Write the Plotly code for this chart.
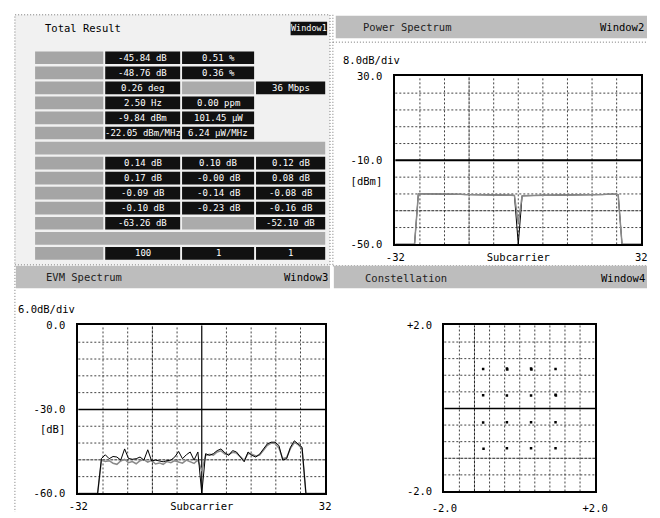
import plotly.graph_objects as go

W, H = 660, 518
FONT = "DejaVu Sans Mono"

# ---------------- data ----------------
subcarriers = list(range(-32, 33))

ps_avg = ([-50.0] * 6 +
          [-25.9, -25.9, -25.9, -26.0, -26.0, -26.0, -26.1, -26.1, -26.1, -26.2, -26.2, -26.2, -26.3,
           -26.3, -26.3, -26.3, -26.4, -26.4, -26.4, -26.5, -26.5, -26.5, -26.5, -26.6, -26.6, -26.7] +
          [-40.0] +
          [-26.9, -26.8, -26.8, -26.8, -26.7, -26.7, -26.6, -26.6, -26.6, -26.6, -26.5, -26.5, -26.5,
           -26.5, -26.5, -26.5, -26.4, -26.4, -26.4, -26.4, -26.3, -26.3, -26.2, -26.1, -26.1, -26.3] +
          [-50.0] * 6)
ps_peak = ps_avg[:32] + [-50.0] + ps_avg[33:]

evm_black = ([-60.0] * 6 +
             [-47.5, -46.2, -47.6, -46.8, -47.0, -48.1, -44.1, -47.5, -47.8, -47.6, -47.0, -48.1, -44.4,
              -48.4, -48.1, -48.5, -48.7, -48.3, -48.1, -47.0, -45.0, -47.6, -46.2, -45.2, -48.1, -45.2] +
             [-60.0] +
             [-45.8, -46.4, -45.8, -44.7, -44.1, -45.5, -46.4, -44.7, -45.2, -47.0, -48.7, -45.2, -46.4,
              -47.0, -46.0, -44.1, -42.3, -41.7, -41.7, -42.9, -48.1, -47.6, -43.5, -41.2, -42.3, -43.5] +
             [-60.0] * 6)
evm_gray = ([-60.0] * 6 +
            [-48.0, -48.6, -48.3, -49.2, -49.6, -48.4, -47.8, -49.0, -48.6, -49.4, -48.3, -47.9, -48.8,
             -48.2, -49.5, -49.1, -49.6, -48.6, -49.0, -48.3, -48.8, -49.2, -48.1, -48.7, -49.3, -48.0] +
            [-52.0] +
            [-46.5, -46.0, -46.3, -45.2, -44.8, -45.9, -46.1, -45.3, -45.6, -46.8, -48.2, -45.7, -46.0,
             -46.6, -46.3, -44.6, -42.8, -42.0, -42.2, -43.8, -47.6, -47.2, -43.9, -41.8, -42.6, -44.0] +
            [-60.0] * 6)

const_i = [-0.97, -0.34, 0.30, 0.95, -0.97, -0.34, 0.30, 0.95,
           -0.97, -0.34, 0.30, 0.95, -0.96, -0.34, 0.30, 0.95, -0.33, 0.31, 0.96]
const_q = [0.95, 0.96, 0.96, 0.95, 0.32, 0.31, 0.31, 0.33,
           -0.34, -0.33, -0.33, -0.33, -0.97, -0.96, -0.96, -0.96, 0.94, 0.94, 0.31]

ps_yticks = [30, -20, -10, -50]
ps_yticktext = ["30.0", "[dBm]", "-10.0", "-50.0"]
evm_yticks = [0, -30, -37, -60]
evm_yticktext = ["0.0", "-30.0", "[dB]", "-60.0"]
sc_ticks = [-32, 0, 32]
sc_ticktext = ["-32", "Subcarrier", "32"]
iq_ticks = [-2, 2]
iq_ticktext = ["-2.0", "+2.0"]

# Total Result table (None = gray cell, "" = empty, "H" = header row)
col1 = ["-45.84 dB", "-48.76 dB", "0.26 deg", "2.50 Hz", "-9.84 dBm", "-22.05 dBm/MHz", "H",
        "0.14 dB", "0.17 dB", "-0.09 dB", "-0.10 dB", "-63.26 dB", "H", "100"]
col2 = ["0.51 %", "0.36 %", None, "0.00 ppm", "101.45 \u03bcW", "6.24 \u03bcW/MHz", "H",
        "0.10 dB", "-0.00 dB", "-0.14 dB", "-0.23 dB", None, "H", "1"]
col3 = ["", "", "36 Mbps", "", "", "", "H",
        "0.12 dB", "0.08 dB", "-0.08 dB", "-0.16 dB", "-52.10 dB", "H", "1"]

# ---------------- helpers ----------------
def fx(x):
    return x / W


def fy(y):
    return 1 - y / H


def dom_x(a, b):
    return [a / W, b / W]


def dom_y(a, b):
    return [1 - b / H, 1 - a / H]


fig = go.Figure()

# Power spectrum traces
fig.add_trace(go.Scatter(x=subcarriers, y=ps_peak, mode="lines", line=dict(color="black", width=1),
                         xaxis="x", yaxis="y", hoverinfo="skip"))
fig.add_trace(go.Scatter(x=subcarriers, y=ps_avg, mode="lines", line=dict(color="#8a8a8a", width=1.5),
                         xaxis="x", yaxis="y", hoverinfo="skip"))
# EVM traces
fig.add_trace(go.Scatter(x=subcarriers, y=evm_gray, mode="lines", line=dict(color="#8a8a8a", width=1.5),
                         xaxis="x2", yaxis="y2", hoverinfo="skip"))
fig.add_trace(go.Scatter(x=subcarriers, y=evm_black, mode="lines", line=dict(color="black", width=1),
                         xaxis="x2", yaxis="y2", hoverinfo="skip"))
# Constellation
fig.add_trace(go.Scatter(x=const_i, y=const_q, mode="markers",
                         marker=dict(color="black", size=2.5, symbol="square"),
                         xaxis="x3", yaxis="y3", hoverinfo="skip"))

axis_common = dict(showgrid=False, zeroline=False, showline=True, mirror=True, linecolor="black",
                   linewidth=2, ticks="", tickfont=dict(family=FONT, size=10.5, color="black"),
                   fixedrange=True)

fig.update_layout(
    width=W, height=H, autosize=False, margin=dict(l=0, r=0, t=0, b=0, pad=0), showlegend=False,
    paper_bgcolor="white", plot_bgcolor="white",
    font=dict(family=FONT, size=10.5, color="black"),
    xaxis=dict(domain=dom_x(398, 654), range=[-32, 32], tickvals=sc_ticks, ticktext=sc_ticktext,
               anchor="y", ticklabelstandoff=2, **axis_common),
    yaxis=dict(domain=dom_y(72, 244), range=[-50, 30], tickvals=ps_yticks, ticktext=ps_yticktext,
               anchor="x", ticklabelstandoff=9, **axis_common),
    xaxis2=dict(domain=dom_x(68, 325), range=[-32, 32], tickvals=sc_ticks, ticktext=sc_ticktext,
                anchor="y2", ticklabelstandoff=2, **axis_common),
    yaxis2=dict(domain=dom_y(327, 499), range=[-60, 0], tickvals=evm_yticks, ticktext=evm_yticktext,
                anchor="x2", ticklabelstandoff=9, **axis_common),
    xaxis3=dict(domain=dom_x(449, 606), range=[-2, 2], tickvals=iq_ticks, ticktext=iq_ticktext,
                anchor="y3", ticklabelstandoff=6, **axis_common),
    yaxis3=dict(domain=dom_y(327, 497), range=[-2, 2], tickvals=iq_ticks, ticktext=iq_ticktext,
                anchor="x3", ticklabelstandoff=8, **axis_common),
)

shapes = []
annotations = []

DOT = "2px,2px"
DENSE = "3px,1px"


def grid(xref, yref, x0, x1, nx, y0, y1, ny, solid_h=None, solid_v=None, dense_h=None, dense_v=None,
         solid_h_w=1.5):
    dx = (x1 - x0) / nx
    dy = (y1 - y0) / ny
    for k in range(1, nx):
        v = x0 + k * dx
        if solid_v == k:
            ln = dict(color="black", width=1.2)
        elif dense_v == k:
            ln = dict(color="#222", width=1, dash=DENSE)
        else:
            ln = dict(color="#444", width=1, dash=DOT)
        shapes.append(dict(type="line", xref=xref, yref=yref + " domain", x0=v, x1=v, y0=0, y1=1,
                           line=ln, layer="below"))
    for k in range(1, ny):
        v = y1 - k * dy
        if solid_h == k:
            ln = dict(color="black", width=solid_h_w)
        elif dense_h == k:
            ln = dict(color="#222", width=1, dash=DENSE)
        else:
            ln = dict(color="#444", width=1, dash=DOT)
        shapes.append(dict(type="line", xref=xref + " domain", yref=yref, x0=0, x1=1, y0=v, y1=v,
                           line=ln, layer="below"))


grid("x", "y", -32, 32, 10, -50, 30, 10, solid_h=5, dense_h=8, dense_v=3, solid_h_w=2)
grid("x2", "y2", -32, 32, 10, -60, 0, 10, solid_h=5, solid_v=5, dense_h=8, dense_v=3)
grid("x3", "y3", -2, 2, 10, -2, 2, 10, solid_h=5, dense_h=8, dense_v=2)


def rect(x0, y0, x1, y1, fill, line=None):
    d = dict(type="rect", xref="paper", yref="paper", x0=fx(x0), x1=fx(x1), y0=fy(y1), y1=fy(y0),
             fillcolor=fill, layer="below", line=line or dict(width=0))
    shapes.append(d)


def pline(x0, y0, x1, y1, color="#777", dash="1px,2px"):
    shapes.append(dict(type="line", xref="paper", yref="paper", x0=fx(x0), x1=fx(x1), y0=fy(y0),
                       y1=fy(y1), line=dict(color=color, width=1, dash=dash), layer="below"))


def text(x, y, s, xanchor="left", size=10.5, color="black"):
    annotations.append(dict(xref="paper", yref="paper", x=fx(x), y=fy(y), text=s, showarrow=False,
                            xanchor=xanchor, yanchor="middle", borderpad=0,
                            font=dict(family=FONT, size=size, color=color)))


# panels
rect(2, 9, 330, 265, "#f1f1f1", line=dict(color="#777", width=1, dash="1px,2px"))
rect(336, 10, 660, 33, "#bdbdbd")
pline(333, 9, 333, 265)
pline(333, 37, 660, 37)
pline(333, 266, 660, 266)
rect(3, 266, 330, 289, "#bdbdbd")
rect(334, 266, 660, 289, "#bdbdbd")
pline(2, 266, 2, 518)

# titles
text(32, 23, "Total Result")
rect(289, 16, 327, 30, "#111")
text(308, 23, "Window1", xanchor="center", size=8.5, color="white")
text(363, 22, "Power Spectrum", color="#222")
text(658, 22, "Window2", xanchor="right")
text(33, 277, "EVM Spectrum", color="#222")
text(329, 277, "Window3", xanchor="right")
text(365, 278, "Constellation", color="#222")
text(659, 278, "Window4", xanchor="right")
text(343, 55, "8.0dB/div")
text(4, 310, "6.0dB/div")

# table
col_x = [(96, 174), (176, 251), (253, 325)]
cols = [col1, col2, col3]
for i in range(len(col1)):
    yc = 53 + 15.4 * i
    y0, y1 = yc - 6.5, yc + 6.5
    if col1[i] == "H":
        rect(23, y0, 325, y1, "#ababab")
        continue
    rect(23, y0, 94, y1, "#a5a5a5")
    for c, (xa, xb) in zip(cols, col_x):
        v = c[i]
        if v is None:
            rect(xa, y0, xb, y1, "#ababab")
        elif v == "":
            continue
        else:
            rect(xa, y0, xb, y1, "#111")
            text((xa + xb) / 2, yc, v, xanchor="center", size=9, color="white")

fig.update_layout(shapes=shapes, annotations=annotations)

post = ("var s=document.createElement('style');"
        "s.innerHTML='html,body{margin:0;padding:0;overflow:hidden;}';"
        "document.head.appendChild(s);"
        "document.body.style.margin='0';")

fig.write_html("out.html", post_script=post,
               config={"displayModeBar": False, "staticPlot": True, "responsive": False})
